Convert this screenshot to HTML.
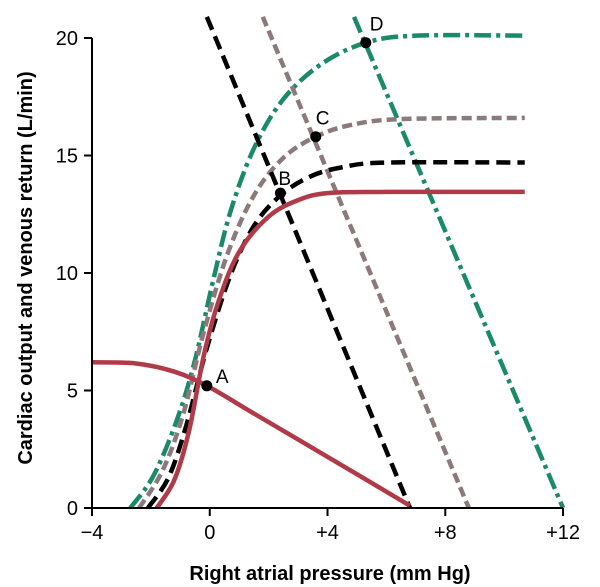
<!DOCTYPE html>
<html><head><meta charset="utf-8"><style>
body{margin:0;background:#fff;width:600px;height:587px;overflow:hidden}
svg{display:block;font-family:"Liberation Sans",Arial,sans-serif}
</style></head><body>
<svg id="chart" width="600" height="587"></svg>
<script>
const xTicks=[-4,0,4,8,12];
const xTickLabels=["\u22124","0","+4","+8","+12"];
const yTicks=[0,5,10,15,20];
const redCO=[[-1.8,0],[-1.2,1.2],[-0.7,3.3],[-0.2,6.5],[0.3,8.8],[1,10.9],[2,12.4],[3,13.1],[4,13.4],[6,13.45],[10.7,13.45]];
const redVR=[[-4,6.2],[-2.5,6.15],[-1.2,5.8],[-0.1,5.2],[1.5,4.02],[3.4,2.62],[5.2,1.29],[6.8,0.1]];
const blackCO=[[-2.1,0],[-1.4,1.3],[-0.8,3.5],[-0.1,6.8],[0.7,9.9],[1.5,12],[2.4,13.3],[3.4,14.1],[4.5,14.5],[6,14.7],[10.7,14.7]];
const blackVR=[[-0.1,20.9],[6.8,0]];
const grayCO=[[-2.4,0],[-1.6,1.6],[-0.9,4],[-0.2,7.5],[0.6,10.8],[1.5,13.3],[2.5,14.9],[3.6,15.8],[4.8,16.3],[6.5,16.55],[10.7,16.6]];
const grayVR=[[1.8,20.9],[8.8,0]];
const greenCO=[[-2.7,0],[-1.9,1.4],[-1.1,3.8],[-0.5,6.3],[0.1,9.6],[0.7,12.6],[1.5,15.3],[2.5,17.4],[3.8,18.9],[5.3,19.8],[7,20.1],[10.7,20.1]];
const greenVR=[[4.9,20.9],[12,0]];
const points=[["A",-0.1,5.2],["B",2.4,13.4],["C",3.6,15.8],["D",5.3,19.8]];
const labelOffsets={A:[9,-3],B:[-2,-8],C:[0,-12],D:[4,-12]};

const NS="http://www.w3.org/2000/svg";
const svg=document.getElementById('chart');
const X=v=>92+(v+4)*29.44;
const Y=v=>508-v*23.5;
function el(t,a,p){const e=document.createElementNS(NS,t);for(const k in a)e.setAttribute(k,a[k]);(p||svg).appendChild(e);return e;}
function smooth(pts){
  const P=pts.map(p=>[X(p[0]),Y(p[1])]);
  if(P.length===2)return `M${P[0]}L${P[1]}`;
  let d=`M${P[0][0]},${P[0][1]}`;
  for(let i=0;i<P.length-1;i++){
    const p0=P[i-1]||P[i],p1=P[i],p2=P[i+1],p3=P[i+2]||p2;
    const c1=[p1[0]+(p2[0]-p0[0])/6,p1[1]+(p2[1]-p0[1])/6];
    const c2=[p2[0]-(p3[0]-p1[0])/6,p2[1]-(p3[1]-p1[1])/6];
    d+=`C${c1[0]},${c1[1]} ${c2[0]},${c2[1]} ${p2[0]},${p2[1]}`;
  }
  return d;
}
const series=[
 [greenCO,'#1a8a6a','17 5 4 5','green-cardiac-output'],
 [greenVR,'#1a8a6a','17 5 4 5','green-venous-return'],
 [grayVR,'#8c7a7a','10 5','gray-venous-return'],
 [grayCO,'#8c7a7a','10 5','gray-cardiac-output'],
 [blackVR,'#000','14 7','black-venous-return'],
 [blackCO,'#000','14 7','black-cardiac-output'],
 [redVR,'#b03a48',null,'red-venous-return'],
 [redCO,'#b03a48',null,'red-cardiac-output']
];
series.forEach(s=>{
  const p=el('path',{d:smooth(s[0]),fill:'none',stroke:s[1],'stroke-width':4.5});
  if(s[2])p.setAttribute('stroke-dasharray',s[2]);
  
  
});
const ax=el('path',{d:`M92,38V508H563`,fill:'none',stroke:'#000','stroke-width':2});


xTicks.forEach((t,i)=>{
  const l=el('line',{x1:X(t),x2:X(t),y1:508,y2:516,stroke:'#000','stroke-width':2});
  
  
  const tx=el('text',{x:X(t),y:539,'text-anchor':'middle','font-size':20});
  tx.textContent=xTickLabels[i];
  
  
});
yTicks.forEach(t=>{
  const l=el('line',{x1:84,x2:92,y1:Y(t),y2:Y(t),stroke:'#000','stroke-width':2});
  
  
  const tx=el('text',{x:78,y:Y(t)+7,'text-anchor':'end','font-size':20});
  tx.textContent=t;
  
  
});
points.forEach(p=>{
  const c=el('circle',{cx:X(p[1]),cy:Y(p[2]),r:5.5,fill:'#000'});
  
  
  const o=labelOffsets[p[0]];
  const t=el('text',{x:X(p[1])+o[0],y:Y(p[2])+o[1],'font-size':19});
  t.textContent=p[0];
  
  
});
const xt=el('text',{x:330,y:580,'text-anchor':'middle','font-size':20,'font-weight':'bold'});
xt.textContent='Right atrial pressure (mm Hg)';


const yt=el('text',{x:0,y:0,'text-anchor':'middle','font-size':20,'font-weight':'bold',transform:'translate(32,268) rotate(-90)'});
yt.textContent='Cardiac output and venous return (L/min)';


</script>
</body></html>
